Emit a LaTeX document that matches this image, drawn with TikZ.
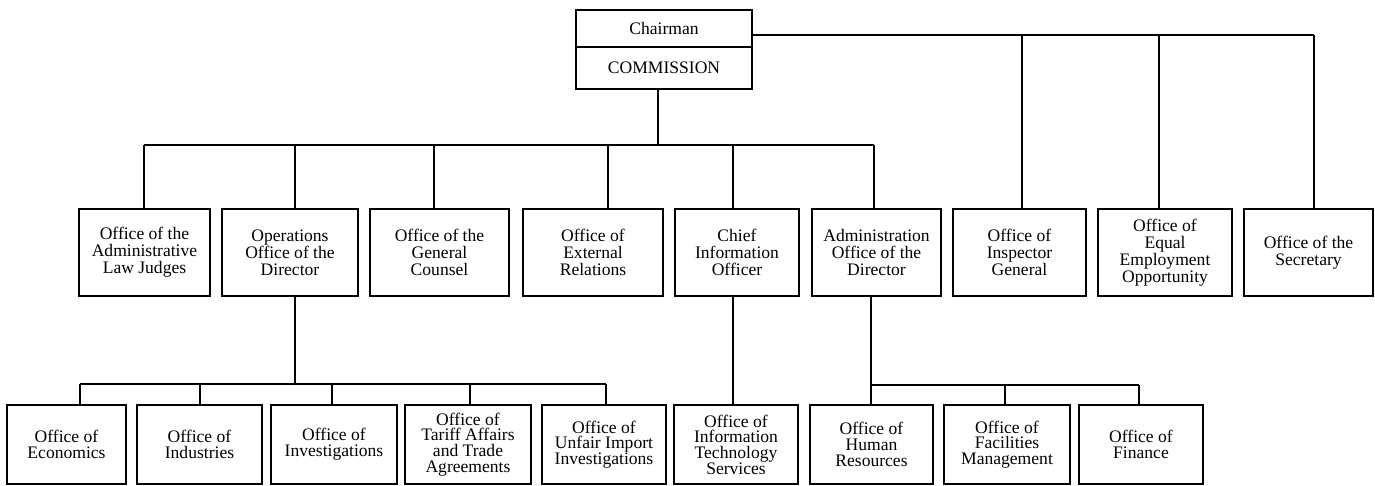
\documentclass[tikz,border=0pt]{standalone}
\usepackage{fontspec}
\setmainfont{Liberation Serif}

\begin{document}
\begin{tikzpicture}[x=0.02cm, y=-0.02cm, line width=1.1pt,
  box/.style={draw, line width=1.4pt, align=center, inner sep=1pt, font=\fontsize{10}{9.6}\selectfont},
  office/.style={box, minimum height=1.74cm},
  suboffice/.style={box, minimum height=1.58cm, font=\fontsize{10}{8.9}\selectfont}]

\useasboundingbox (0,0) rectangle (1375,485);

% --- Chairman / Commission (top) ---
\node[box, minimum width=3.52cm, minimum height=0.74cm] (chair) at (664,28.5) {Chairman};
\node[box, minimum width=3.52cm, minimum height=0.84cm] (comm) at (664,68) {COMMISSION};

% --- offices under the Commission ---
\node[office, minimum width=2.62cm] (alj) at (144.5,252.5) {Office of the\\Administrative\\Law Judges};
\node[office, minimum width=2.72cm] (ops) at (290,252.5) {Operations\\Office of the\\Director};
\node[office, minimum width=2.78cm] (gc) at (439.5,252.5) {Office of the\\General\\Counsel};
\node[office, minimum width=2.80cm] (extrel) at (593,252.5) {Office of\\External\\Relations};
\node[office, minimum width=2.48cm] (cio) at (737,252.5) {Chief\\Information\\Officer};
\node[office, minimum width=2.58cm] (admin) at (876.5,252.5) {Administration\\Office of the\\Director};

% --- offices reporting to the Chairman ---
\node[office, minimum width=2.66cm] (ig) at (1019.5,252.5) {Office of\\Inspector\\General};
\node[office, minimum width=2.68cm] (eeo) at (1165,252.5) {Office of\\Equal\\Employment\\Opportunity};
\node[office, minimum width=2.58cm] (sec) at (1308.5,252.5) {Office of the\\Secretary};

% --- operations offices (bottom left) ---
\node[suboffice, minimum width=2.38cm] (econ) at (66.5,444.5) {Office of\\Economics};
\node[suboffice, minimum width=2.50cm] (ind) at (199.5,444.5) {Office of\\Industries};
\node[suboffice, minimum width=2.52cm] (inv) at (334,444.5) {Office of\\Investigations};
\node[suboffice, minimum width=2.52cm] (tariff) at (468,444.5) {Office of\\Tariff Affairs\\and Trade\\Agreements};
\node[suboffice, minimum width=2.48cm] (unfair) at (604,444.5) {Office of\\Unfair Import\\Investigations};

% --- IT and administration offices (bottom right) ---
\node[suboffice, minimum width=2.48cm] (its) at (736,444.5) {Office of\\Information\\Technology\\Services};
\node[suboffice, minimum width=2.46cm] (hr) at (871.5,444.5) {Office of\\Human\\Resources};
\node[suboffice, minimum width=2.52cm] (fac) at (1007,444.5) {Office of\\Facilities\\Management};
\node[suboffice, minimum width=2.48cm] (fin) at (1141,444.5) {Office of\\Finance};

% Commission down to its offices
\coordinate (cbus) at (658,145);
\draw (comm.south -| cbus) -- (cbus);
\draw (144,145) -- (874,145);
\foreach \n/\x in {alj/144, ops/295, gc/434, extrel/608, cio/733, admin/874}
  \draw (\x,145) -- (\x,0 |- \n.north);

% Chairman across to the right
\coordinate (rbus) at (1314,35);
\draw (chair.east |- rbus) -- (rbus);
\foreach \n/\x in {ig/1022, eeo/1159, sec/1314}
  \draw (\x,35) -- (\x,0 |- \n.north);

% Operations down to its offices
\coordinate (obus) at (295,384);
\draw (ops.south -| obus) -- (obus);
\draw (80,384) -- (606,384);
\foreach \n/\x in {econ/80, ind/200, inv/332, tariff/470, unfair/606}
  \draw (\x,384) -- (\x,0 |- \n.north);

% CIO down to IT services
\draw (cio.south -| 733,0) -- (its.north -| 733,0);

% Administration down to its offices
\coordinate (abus) at (871,385);
\draw (admin.south -| abus) -- (hr.north -| abus);
\draw (abus) -- (1139,385);
\foreach \n/\x in {fac/1005, fin/1139}
  \draw (\x,385) -- (\x,0 |- \n.north);

\end{tikzpicture}
\end{document}
